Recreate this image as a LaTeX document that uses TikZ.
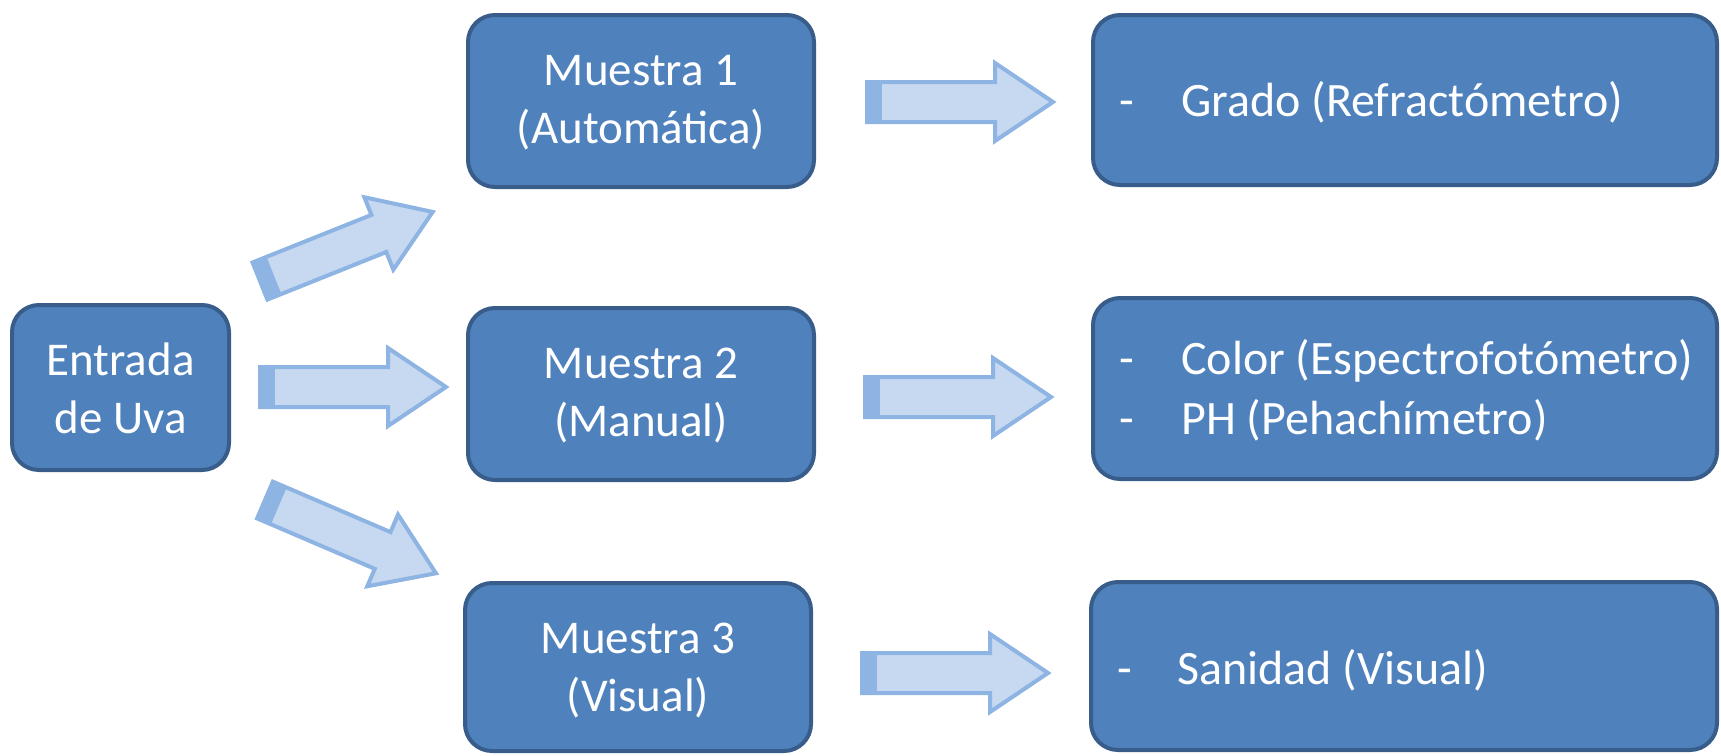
\documentclass[tikz,border=0pt]{standalone}
\usepackage{fontspec}
\setmainfont{Carlito}
\definecolor{boxfill}{HTML}{4F81BD}
\definecolor{boxline}{HTML}{385D8A}
\definecolor{arrfill}{HTML}{C6D9F1}
\definecolor{arrline}{HTML}{8DB4E2}
\tikzset{
  bluebox/.style={draw=boxline, fill=boxfill, line width=4pt, rounded corners=27pt},
  boxtext/.style={text=white, font=\fontsize{47}{58}\selectfont, align=center, inner sep=0pt},
  itemtext/.style={text=white, font=\fontsize{48}{58}\selectfont, inner sep=0pt, anchor=base west},
}
\newcommand{\blockarrow}[3]{%
  \begin{scope}[shift={(#1,#2)}, rotate=#3]
    \fill[arrfill] (0,-20) -- (128,-20) -- (128,-39) -- (186,0) -- (128,39) -- (128,20) -- (0,20) -- cycle;
    \fill[arrline] (0,-20) rectangle (15,20);
    \draw[arrline, line width=4pt, line join=miter] (0,-20) -- (128,-20) -- (128,-39) -- (186,0) -- (128,39) -- (128,20) -- (0,20) -- cycle;
  \end{scope}}
\begin{document}
\begin{tikzpicture}[x=1pt,y=-1pt]
\useasboundingbox (0,0) rectangle (1721,755);
% boxes
\draw[bluebox] (12,305) rectangle (229,470);
\node[boxtext] (entrada) at (120.5,388) {Entrada\\de Uva};
\draw[bluebox] (468,15) rectangle (814,187);
\node[boxtext] (m1) at (641,103) {Muestra 1\\(Automática)};
\draw[bluebox] (468,308) rectangle (814,480);
\node[boxtext] (m2) at (641,396) {Muestra 2\\(Manual)};
\draw[bluebox] (465,583) rectangle (811,751);
\node[boxtext] (m3) at (638,670) {Muestra 3\\(Visual)};
\draw[bluebox] (1093,15) rectangle (1717,185);
\node[itemtext] (d1) at (1119,116) {-};
\node[itemtext] (r1) at (1181,116) {Grado (Refractómetro)};
\draw[bluebox] (1093,298) rectangle (1717,479);
\node[itemtext] (d2) at (1119,374) {-};
\node[itemtext] (r2) at (1181,374) {Color (Espectrofotómetro)};
\node[itemtext] (d3) at (1119,434) {-};
\node[itemtext] (r3) at (1181,434) {PH (Pehachímetro)};
\draw[bluebox] (1091,582) rectangle (1717,750);
\node[itemtext] (d4) at (1117,684) {-};
\node[itemtext] (r4) at (1177,684) {Sanidad (Visual)};
% arrows
\blockarrow{260}{281}{21.8}
\blockarrow{260}{387}{0}
\blockarrow{265}{500}{-23.2}
\blockarrow{867}{102}{0}
\blockarrow{865}{397}{0}
\blockarrow{862}{673}{0}
\end{tikzpicture}
\end{document}
